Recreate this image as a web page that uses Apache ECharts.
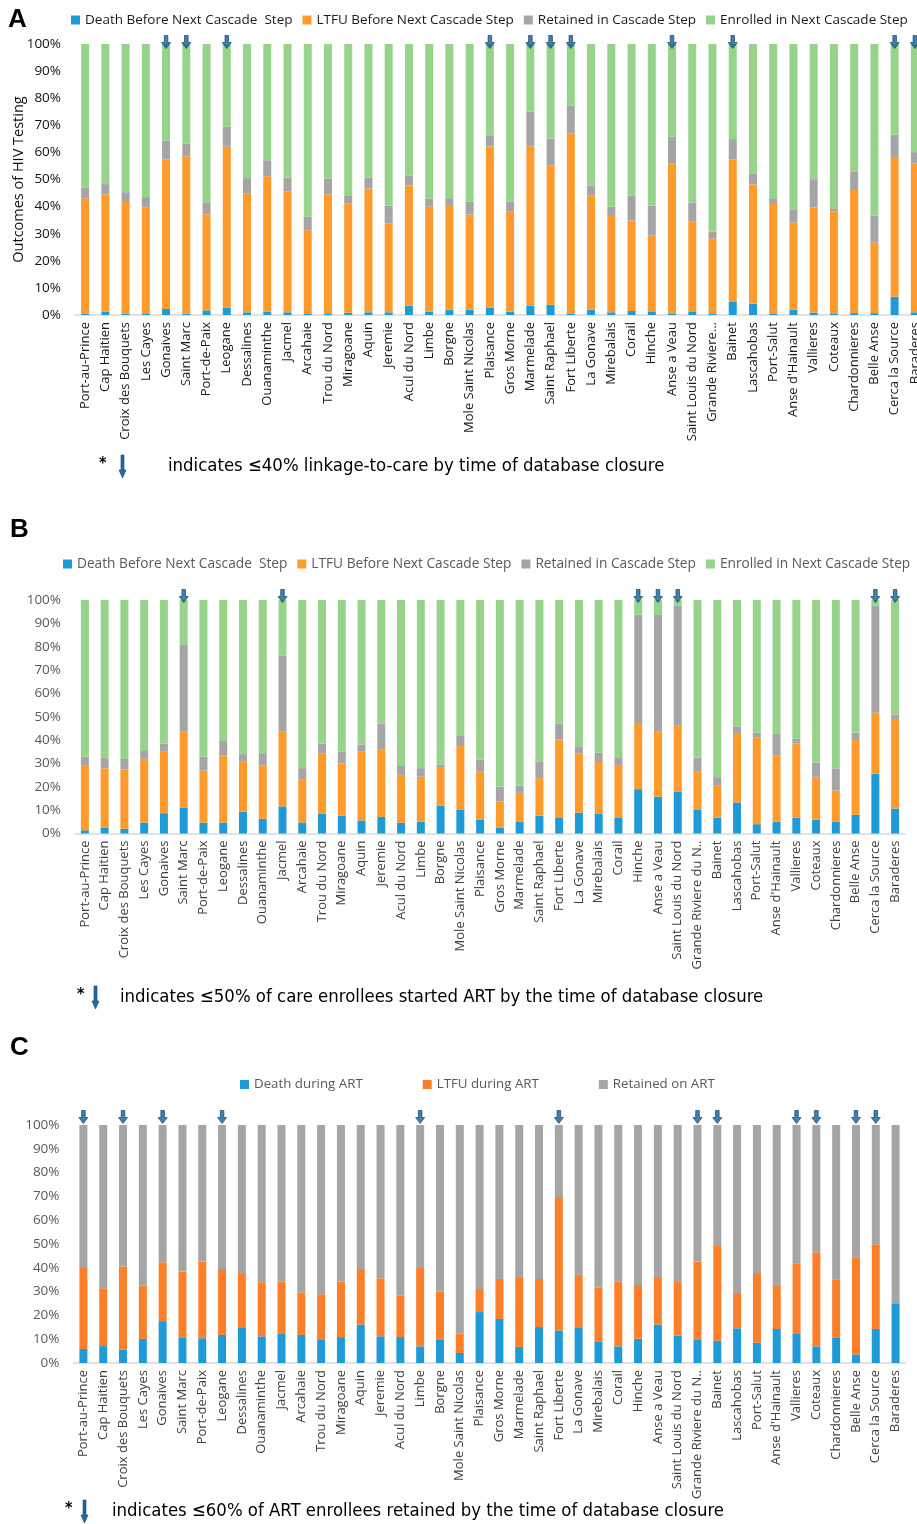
<!DOCTYPE html>
<html>
<head>
<meta charset="utf-8">
<script src="https://cdn.jsdelivr.net/npm/echarts@6/dist/echarts.min.js"></script>
<style>
html,body{margin:0;padding:0;background:#fff;}
#chart{width:917px;height:1524px;}
</style>
</head>
<body>
<div id="chart"></div>
<script>
// ---------- categories / tick labels ----------
const categories = ["Port-au-Prince","Cap Haitien","Croix des Bouquets","Les Cayes","Gonaives","Saint Marc","Port-de-Paix","Leogane","Dessalines","Ouanaminthe","Jacmel","Arcahaie","Trou du Nord","Miragoane","Aquin","Jeremie","Acul du Nord","Limbe","Borgne","Mole Saint Nicolas","Plaisance","Gros Morne","Marmelade","Saint Raphael","Fort Liberte","La Gonave","Mirebalais","Corail","Hinche","Anse a Veau","Saint Louis du Nord","Grande Riviere du N..","Bainet","Lascahobas","Port-Salut","Anse d'Hainault","Vallieres","Coteaux","Chardonnieres","Belle Anse","Cerca la Source","Baraderes"];
const labelsA = ["Port-au-Prince","Cap Haitien","Croix des Bouquets","Les Cayes","Gonaives","Saint Marc","Port-de-Paix","Leogane","Dessalines","Ouanaminthe","Jacmel","Arcahaie","Trou du Nord","Miragoane","Aquin","Jeremie","Acul du Nord","Limbe","Borgne","Mole Saint Nicolas","Plaisance","Gros Morne","Marmelade","Saint Raphael","Fort Liberte","La Gonave","Mirebalais","Corail","Hinche","Anse a Veau","Saint Louis du Nord","Grande Riviere...","Bainet","Lascahobas","Port-Salut","Anse d'Hainault","Vallieres","Coteaux","Chardonnieres","Belle Anse","Cerca la Source","Baraderes"];

// ---------- Panel A: outcomes of HIV testing (%) ----------
const deathA    = [0.6,1.2,0.5,0.6,2.2,0.5,1.7,2.7,1.0,1.2,1.0,0.6,0.6,0.8,1.0,1.0,3.4,1.2,2.0,2.0,2.7,1.2,3.4,3.8,0.4,2.0,1.0,1.5,1.1,0.4,1.1,0.6,4.8,4.2,0.4,2.0,0.9,0.4,0.7,0.7,6.7,1.0];
const ltfuA     = [42.5,43.4,41.2,39.2,55.3,58.1,35.5,59.4,43.8,50.0,44.7,30.7,44.0,40.3,45.7,32.9,44.4,38.8,38.6,35.1,59.5,37.1,58.9,51.5,66.7,42.2,35.9,33.4,28.3,55.5,33.5,27.6,52.7,44.0,40.9,32.1,38.9,37.9,45.4,26.0,51.6,54.9];
const retainedA = [3.9,3.7,3.6,3.7,6.9,4.7,4.4,7.4,5.7,5.9,4.9,5.0,5.8,3.1,4.0,6.5,3.7,2.9,2.5,4.8,4.1,3.6,12.8,9.8,10.1,3.6,3.1,9.2,11.0,9.9,6.9,2.5,7.4,4.1,1.8,4.9,10.3,1.1,6.9,10.0,8.3,4.2];
const enrolledA = [53.0,51.7,54.7,56.5,35.6,36.7,58.4,30.5,49.5,42.9,49.4,63.7,49.6,55.8,49.3,59.6,48.5,57.1,56.9,58.1,33.7,58.1,24.9,34.9,22.8,52.2,60.0,55.9,59.6,34.2,58.5,69.3,35.1,47.7,56.9,61.0,49.9,60.6,47.0,63.3,33.4,39.9];
const flaggedA  = ["Gonaives","Saint Marc","Leogane","Plaisance","Marmelade","Saint Raphael","Fort Liberte","Anse a Veau","Bainet","Cerca la Source","Baraderes"];

// ---------- Panel B: outcomes of care enrollment (%) ----------
const deathB    = [1.4,2.6,2.0,4.7,8.7,11.1,4.6,4.7,9.4,6.3,11.6,4.7,8.4,7.6,5.6,7.1,4.6,5.0,11.9,10.3,6.0,2.6,5.0,7.6,6.9,8.9,8.4,6.9,19.0,15.7,18.0,10.3,6.7,13.3,4.0,5.1,6.7,5.9,5.0,8.0,25.6,10.7];
const ltfuB     = [27.6,25.3,25.4,27.3,26.3,32.5,22.3,28.7,21.6,22.8,32.0,18.3,25.9,22.4,29.4,29.0,20.4,19.3,16.2,27.6,20.7,11.1,12.3,16.1,33.4,25.4,22.2,22.4,28.3,27.9,28.4,16.4,14.0,29.7,37.0,28.2,31.9,18.4,13.4,32.0,26.1,38.3];
const retainedB = [3.9,4.4,4.5,3.7,3.4,37.5,6.0,6.2,3.0,5.3,32.5,5.0,4.1,5.0,3.1,10.9,3.9,3.7,1.5,4.2,5.0,6.3,3.1,7.2,6.7,3.0,4.1,3.0,46.4,50.0,51.2,5.7,3.4,2.9,2.1,9.3,2.0,6.1,9.5,3.1,45.9,1.9];
const enrolledB = [67.1,67.7,68.1,64.3,61.6,18.9,67.1,60.4,66.0,65.6,23.9,72.0,61.6,65.0,61.9,53.0,71.1,72.0,70.4,57.9,68.3,80.0,79.6,69.1,53.0,62.7,65.3,67.7,6.3,6.4,2.4,67.6,75.9,54.1,56.9,57.4,59.4,69.6,72.1,56.9,2.4,49.1];
const flaggedB  = ["Saint Marc","Jacmel","Hinche","Anse a Veau","Saint Louis du Nord","Cerca la Source","Baraderes"];

// ---------- Panel C: outcomes of ART (%) ----------
const deathC    = [5.9,7.1,5.7,10.1,17.6,10.8,10.4,11.8,14.7,11.2,12.5,11.8,9.7,10.9,16.2,11.2,10.9,7.0,9.7,4.2,21.4,18.5,6.7,15.1,13.7,14.7,9.1,7.0,10.2,16.2,11.5,9.7,9.4,14.6,8.5,14.3,12.2,7.0,10.8,3.6,14.3,25.1];
const ltfuC     = [34.4,24.3,34.8,22.5,24.7,27.6,32.2,27.7,23.1,22.7,21.8,17.9,19.2,23.3,23.3,24.4,17.5,33.3,20.4,8.1,9.7,16.8,29.4,20.2,56.0,22.4,22.7,27.3,22.6,19.9,22.5,32.9,39.8,14.8,29.3,18.1,29.7,39.5,24.4,40.8,35.6,0];
const retainedC = [59.7,68.6,59.5,67.4,57.7,61.6,57.4,60.5,62.2,66.1,65.7,70.3,71.1,65.8,60.5,64.4,71.6,59.7,69.9,87.7,68.9,64.7,63.9,64.7,30.3,62.9,68.2,65.7,67.2,63.9,66.0,57.4,50.8,70.6,62.2,67.6,58.1,53.5,64.8,55.6,50.1,74.9];
const flaggedC  = ["Port-au-Prince","Croix des Bouquets","Gonaives","Leogane","Limbe","Fort Liberte","Grande Riviere du N..","Bainet","Vallieres","Coteaux","Belle Anse","Cerca la Source"];

// ---------- texts ----------
const namesAB = ["Death Before Next Cascade  Step","LTFU Before Next Cascade Step","Retained in Cascade Step","Enrolled in Next Cascade Step"];
const namesC  = ["Death during ART","LTFU during ART","Retained on ART"];
const yTicks  = [0,10,20,30,40,50,60,70,80,90,100];
const notes = [
  "indicates \u226440% linkage-to-care by time of database closure",
  "indicates \u226450% of care enrollees started ART by the time of database closure",
  "indicates \u226460% of ART enrollees retained by the time of database closure"
];

// ---------- styling ----------
const BLUE='#1e9bd7', ORANGE='#ff9a2d', ORANGE_C='#fd7f2a', GRAY='#a5a5a5', GREEN='#98d38b';
const FONT = "'Open Sans', 'Noto Sans', sans-serif";
const NOTEFONT = "'Liberation Sans Narrow', 'DejaVu Sans Condensed', sans-serif";
const ARROW = 'path://M3,0L7,0L7,6.5L10,6.5L5,12L0,6.5L3,6.5Z';

const grids = [
  {left:75, width:850, top:44, height:271, outerBoundsMode:'none', containLabel:false},
  {left:75, width:830, top:600, height:233.5, outerBoundsMode:'none', containLabel:false},
  {left:73.5, width:832, top:1125, height:238, outerBoundsMode:'none', containLabel:false}
];
const labelColor = ['#1a1a1a','#404040','#404040'];
const tickColor = ['#111','#595959','#595959'];

function xAxisFor(i, labels){
  return {type:'category', gridIndex:i, data:categories,
    axisLine:{lineStyle:{color:'#d9d9d9', width:1.5}}, axisTick:{show:false},
    axisLabel:{rotate:90, interval:0, fontSize:13, margin:7, color:labelColor[i], fontFamily:FONT,
      formatter:(v, idx)=>labels[idx]}};
}
function yAxisFor(i){
  const ax = {type:'value', gridIndex:i, min:yTicks[0], max:yTicks[yTicks.length-1], interval:yTicks[1]-yTicks[0],
    axisLine:{show:false}, axisTick:{show:false}, splitLine:{show:false},
    axisLabel:{formatter:'{value}%', fontSize:13.5, color:tickColor[i], fontFamily:FONT, margin:14}};
  if(i===0){ ax.name='Outcomes of HIV Testing'; ax.nameLocation='middle'; ax.nameGap=49; ax.nameMoveOverlap=false;
    ax.nameTextStyle={fontSize:14.5, color:'#111', fontFamily:FONT}; }
  return ax;
}
function bar(name, data, color, gi, stack){
  return {type:'bar', name, data, stack, xAxisIndex:gi, yAxisIndex:gi, barWidth:8,
    itemStyle:{color}, emphasis:{disabled:true}};
}
function arrows(flags, gi, off){
  return {type:'scatter', name:'flag'+gi, xAxisIndex:gi, yAxisIndex:gi, clip:false, silent:true,
    symbol:ARROW, symbolSize:[9,13], symbolOffset:[0,off],
    itemStyle:{color:'#155f96', borderColor:'#0a3c63', borderWidth:0.8},
    data:flags.map(c=>[c, 100])};
}
function footnote(x, y, arrowX, textX, txt){
  return {type:'group', children:[
    {type:'text', x:x, y:y-10, style:{text:'*', font:"bold 16px "+NOTEFONT, fill:'#000'}},
    {type:'polygon', x:arrowX, y:y-11, shape:{points:[[2,0],[5,0],[5,15],[7,15],[3.5,23],[0,15],[2,15]]},
      style:{fill:'#1f6aa8', stroke:'#0d4572', lineWidth:0.6}},
    {type:'text', x:textX, y:y, style:{text:txt, font:"18.4px "+NOTEFONT, fill:'#000', verticalAlign:'middle'}}
  ]};
}

const option = {
  animation:false,
  backgroundColor:'#fff',
  grid:grids,
  xAxis:[xAxisFor(0,labelsA), xAxisFor(1,categories), xAxisFor(2,categories)],
  yAxis:[yAxisFor(0), yAxisFor(1), yAxisFor(2)],
  legend:[
    {top:13, left:71, padding:0, icon:'rect', itemWidth:9, itemHeight:9, itemGap:10, data:namesAB,
      textStyle:{fontSize:13.5, color:'#1a1a1a', fontFamily:FONT}},
    {top:557, left:63, padding:0, icon:'rect', itemWidth:9, itemHeight:9, itemGap:10, data:namesAB,
      textStyle:{fontSize:13.7, color:'#595959', fontFamily:FONT}},
    {top:1078, left:240, padding:0, icon:'rect', itemWidth:9, itemHeight:9, itemGap:60, data:namesC,
      textStyle:{fontSize:13.3, color:'#595959', fontFamily:FONT}}
  ],
  series:[
    bar(namesAB[0], deathA, BLUE, 0, 'A'),
    bar(namesAB[1], ltfuA, ORANGE, 0, 'A'),
    bar(namesAB[2], retainedA, GRAY, 0, 'A'),
    bar(namesAB[3], enrolledA, GREEN, 0, 'A'),
    arrows(flaggedA, 0, -2),
    bar(namesAB[0], deathB, BLUE, 1, 'B'),
    bar(namesAB[1], ltfuB, ORANGE, 1, 'B'),
    bar(namesAB[2], retainedB, GRAY, 1, 'B'),
    bar(namesAB[3], enrolledB, GREEN, 1, 'B'),
    arrows(flaggedB, 1, -4),
    bar(namesC[0], deathC, BLUE, 2, 'C'),
    bar(namesC[1], ltfuC, ORANGE_C, 2, 'C'),
    bar(namesC[2], retainedC, GRAY, 2, 'C'),
    arrows(flaggedC, 2, -8)
  ],
  graphic:[
    {type:'text', x:8, y:7, style:{text:'A', font:"bold 26px 'Liberation Sans', Arial, sans-serif", fill:'#000'}},
    {type:'text', x:10, y:517, style:{text:'B', font:"bold 26px 'Liberation Sans', Arial, sans-serif", fill:'#000'}},
    {type:'text', x:10, y:1035, style:{text:'C', font:"bold 26px 'Liberation Sans', Arial, sans-serif", fill:'#000'}},
    footnote(99, 466, 119, 168, notes[0]),
    footnote(77, 997, 92, 120, notes[1]),
    footnote(65, 1511, 81, 112, notes[2])
  ]
};
const chart = echarts.init(document.getElementById('chart'), null, {renderer:'canvas'});
chart.setOption(option);
</script>
</body>
</html>
